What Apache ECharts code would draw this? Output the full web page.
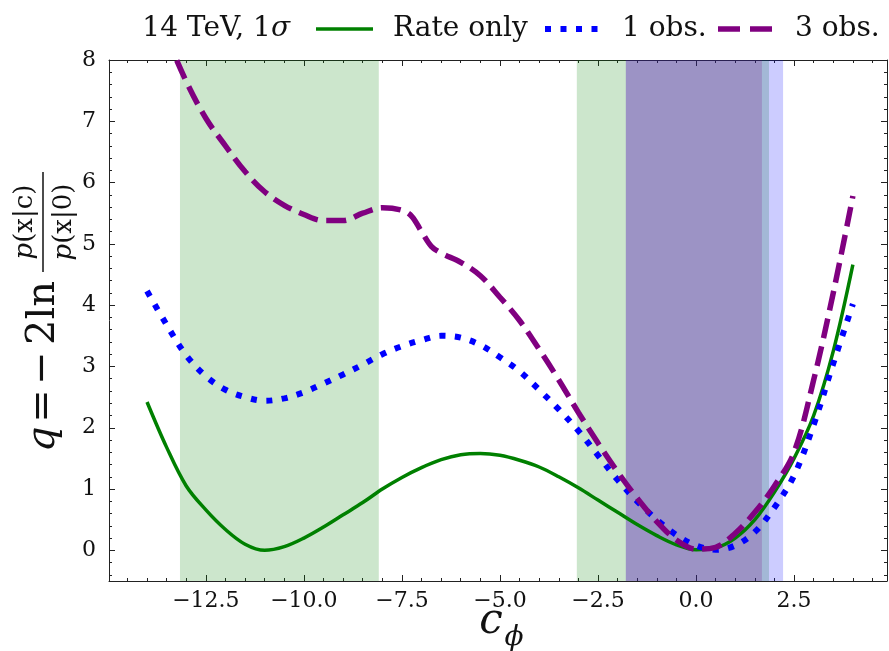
<!DOCTYPE html>
<html>
<head>
<meta charset="utf-8">
<script src="https://cdn.jsdelivr.net/npm/echarts@6/dist/echarts.min.js"></script>
<style>
    html, body { margin: 0; padding: 0; background: #fff; }
    #main { width: 889px; height: 651px; }
</style>
</head>
<body>
<div id="main"></div>
<script>
    // Rate only
    var rateX = [-14, -13.5, -13, -12.5, -12, -11.5, -11, -10.5, -10, -9.5, -9, -8.5, -8, -7.5, -7, -6.5, -6, -5.5, -5, -4.5, -4, -3.5, -3, -2.5, -2, -1.5, -1, -0.5, 0, 0.5, 1, 1.5, 2, 2.5, 3, 3.5, 4];
    var rateY = [2.42, 1.68, 1.05, 0.66, 0.34, 0.1, 0.0, 0.06, 0.2, 0.38, 0.58, 0.78, 1.0, 1.19, 1.35, 1.48, 1.56, 1.58, 1.55, 1.47, 1.36, 1.2, 1.02, 0.82, 0.62, 0.42, 0.24, 0.09, 0.01, 0.04, 0.2, 0.5, 0.95, 1.5, 2.2, 3.25, 4.66];

    // 1 obs.
    var obs1X = [-14, -13.5, -13, -12.5, -12, -11.5, -11, -10.5, -10, -9.5, -9, -8.5, -8, -7.5, -7, -6.5, -6, -5.5, -5, -4.5, -4, -3.5, -3, -2.5, -2, -1.5, -1, -0.5, 0, 0.5, 1, 1.5, 2, 2.5, 3, 3.5, 4];
    var obs1Y = [4.23, 3.68, 3.18, 2.84, 2.62, 2.5, 2.44, 2.48, 2.58, 2.72, 2.87, 3.03, 3.2, 3.33, 3.43, 3.5, 3.47, 3.35, 3.15, 2.92, 2.62, 2.3, 1.95, 1.55, 1.15, 0.8, 0.5, 0.25, 0.08, 0.01, 0.08, 0.3, 0.7, 1.22, 2.05, 3.05, 4.02];

    // 3 obs.
    var obs3X = [-14, -13.5, -13, -12.5, -12, -11.5, -11, -10.5, -10, -9.5, -9, -8.5, -8, -7.5, -7.25, -7, -6.75, -6.5, -6, -5.5, -5, -4.5, -4, -3.5, -3, -2.5, -2, -1.5, -1, -0.5, 0, 0.5, 1, 1.5, 2, 2.5, 3, 3.5, 4];
    var obs3Y = [9.3, 8.4, 7.65, 7.05, 6.6, 6.18, 5.85, 5.63, 5.48, 5.38, 5.38, 5.5, 5.59, 5.55, 5.45, 5.2, 4.96, 4.85, 4.7, 4.48, 4.13, 3.75, 3.28, 2.78, 2.25, 1.75, 1.28, 0.85, 0.47, 0.17, 0.02, 0.05, 0.28, 0.62, 1.05, 1.6, 2.78, 4.2, 5.78];

    // 1 sigma bands
    var rateBands = [[-13.16, -8.09], [-3.04, 1.86]];
    var obs1Bands = [[-1.79, 2.22]];
    var obs3Bands = [[-1.79, 1.68]];

    var xMajor = [-12.5, -10, -7.5, -5, -2.5, 0, 2.5];
    var yMajor = [0, 1, 2, 3, 4, 5, 6, 7, 8];

    var X_MIN = -14.97, X_MAX = 4.87, Y_MIN = -0.5, Y_MAX = 8;
    var SERIF = 'DejaVu Serif';
    var GREEN = '#008000', BLUE = '#0000ff', PURPLE = '#800080';

    var xMinor = [], yMinor = [];
    for (var i = -29; i <= 9; i++) {
        if (i % 5 !== 0) xMinor.push(i * 0.5);
    };
    for (var j = -2; j <= 39; j++) {
        if (j % 5 !== 0) yMinor.push(Math.round(j * 2) / 10);
    };

    function pairs(xs, ys) {
        var out = [];
        for (var k = 0; k < xs.length; k++) out.push([xs[k], ys[k]]);
        return out;
    };
    function bands(list, color) {
        var out = [];
        for (var k = 0; k < list.length; k++) {
            out.push([{ xAxis: list[k][0], itemStyle: { color: color } }, { xAxis: list[k][1] }]);
        };
        return out;
    };

    function makeAxis(isX, pos, vals, len, showLine, showLabel) {
        var ax = {
            type: 'value',
            position: pos,
            min: isX ? X_MIN : Y_MIN,
            max: isX ? X_MAX : Y_MAX,
            axisLine: { show: showLine, onZero: false, lineStyle: { color: '#222', width: 1 } },
            axisTick: { show: true, inside: true, length: len, customValues: vals, lineStyle: { color: '#222', width: 1 } },
            axisLabel: { show: false },
            splitLine: { show: false }
        };
        if (showLabel) {
            ax.axisLabel = {
                show: true,
                customValues: vals,
                color: '#111',
                fontFamily: SERIF,
                fontSize: 22,
                margin: isX ? 9 : 13,
                formatter: function (v) {
                    if (isX) return (v < 0 ? '\u2212' : '') + Math.abs(v).toFixed(1);
                    return String(v);
                }
            };
        };
        return ax;
    };

    function lineSeries(name, xs, ys, color, width, dash) {
        return {
            name: name,
            type: 'line',
            z: 3,
            data: pairs(xs, ys),
            smooth: 0.35,
            symbol: 'none',
            color: color,
            lineStyle: { color: color, width: width, type: dash || 'solid', cap: 'butt' }
        };
    };

    // legend drawn by hand
    function legendItem(x, label, color, width, dash, len) {
        return [{
            type: 'line',
            shape: { x1: x, y1: 29, x2: x + len, y2: 29 },
            style: { stroke: color, lineWidth: width, lineDash: dash, lineCap: 'butt' }
        }, {
            type: 'text',
            x: x + 77,
            y: 29,
            style: { text: label, fontFamily: SERIF, fontSize: 28, fill: '#111', verticalAlign: 'middle', align: 'left' }
        }];
    };

    var myChart = echarts.init(document.getElementById('main'));

    var option = {
        animation: false,
        backgroundColor: '#fff',
        grid: { left: 109, right: 2, top: 60, bottom: 70 },
        xAxis: [
            makeAxis(true, 'bottom', xMajor, 6, true, true),
            makeAxis(true, 'bottom', xMinor, 3, false, false),
            makeAxis(true, 'top', xMajor, 6, true, false),
            makeAxis(true, 'top', xMinor, 3, false, false)
        ],
        yAxis: [
            makeAxis(false, 'left', yMajor, 6, true, true),
            makeAxis(false, 'left', yMinor, 3, false, false),
            makeAxis(false, 'right', yMajor, 6, true, false),
            makeAxis(false, 'right', yMinor, 3, false, false)
        ],
        series: [{
            name: 'bands',
            type: 'line',
            data: [],
            z: 1,
            markArea: {
                silent: true,
                data: bands(rateBands, 'rgba(0,128,0,0.2)')
                    .concat(bands(obs1Bands, 'rgba(0,0,255,0.2)'))
                    .concat(bands(obs3Bands, 'rgba(128,0,128,0.2)'))
            }
        },
            lineSeries('Rate only', rateX, rateY, GREEN, 3.5),
            lineSeries('1 obs.', obs1X, obs1Y, BLUE, 6, [6, 9.5]),
            lineSeries('3 obs.', obs3X, obs3Y, PURPLE, 5.5, [20, 8.5])
        ],
        graphic: [{
            type: 'text',
            x: 290,
            y: 29,
            style: {
                text: '14 TeV, 1{i|\u03c3}',
                fontFamily: SERIF,
                fontSize: 28,
                fill: '#111',
                align: 'right',
                verticalAlign: 'middle',
                rich: { i: { fontFamily: SERIF, fontStyle: 'italic', fontSize: 28 } }
            }
        }].concat(
            legendItem(316, 'Rate only', GREEN, 3.5, null, 57),
            legendItem(545, '1 obs.', BLUE, 6, [6, 9.5], 57),
            legendItem(718, '3 obs.', PURPLE, 5.5, [22, 10], 54),
            [{
                // y axis label, rotated
                type: 'group',
                x: 0,
                y: 452,
                rotation: Math.PI / 2,
                children: [
                    { type: 'text', x: 0, y: 44, style: { text: 'q', fontFamily: SERIF, fontStyle: 'italic', fontSize: 40, fill: '#111', verticalAlign: 'middle', align: 'left' } },
                    { type: 'text', x: 46, y: 44, style: { text: '=', fontFamily: SERIF, fontSize: 40, fill: '#111', verticalAlign: 'middle', align: 'center' } },
                    { type: 'text', x: 84, y: 44, style: { text: '\u2212', fontFamily: SERIF, fontSize: 40, fill: '#111', verticalAlign: 'middle', align: 'center' } },
                    { type: 'text', x: 107, y: 44, style: { text: '2ln', fontFamily: SERIF, fontSize: 40, fill: '#111', verticalAlign: 'middle', align: 'left' } },
                    { type: 'text', x: 230, y: 25, style: { text: '{i|p}(x|c)', fontFamily: SERIF, fontSize: 26, fill: '#111', verticalAlign: 'middle', align: 'center', rich: { i: { fontFamily: SERIF, fontStyle: 'italic', fontSize: 26 } } } },
                    { type: 'line', shape: { x1: 180, y1: 43, x2: 280, y2: 43 }, style: { stroke: '#111', lineWidth: 1.5 } },
                    { type: 'text', x: 230, y: 64, style: { text: '{i|p}(x|0)', fontFamily: SERIF, fontSize: 26, fill: '#111', verticalAlign: 'middle', align: 'center', rich: { i: { fontFamily: SERIF, fontStyle: 'italic', fontSize: 26 } } } }
                ]
            }, {
                // x axis label
                type: 'text',
                x: 491,
                y: 622,
                style: { text: 'c', fontFamily: SERIF, fontStyle: 'italic', fontSize: 42, fill: '#111', verticalAlign: 'middle', align: 'center' }
            }, {
                type: 'text',
                x: 514,
                y: 638,
                style: { text: '\u03d5', fontFamily: SERIF, fontStyle: 'italic', fontSize: 28, fill: '#111', verticalAlign: 'middle', align: 'center' }
            }]
        )
    };
    myChart.setOption(option);
</script>
</body>
</html>
